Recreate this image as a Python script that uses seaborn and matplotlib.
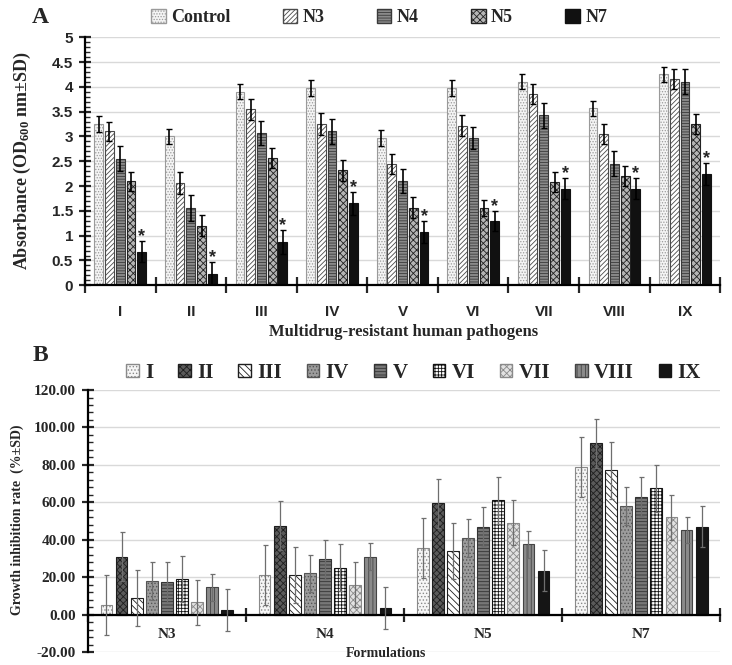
import matplotlib
matplotlib.use('Agg')
import matplotlib.pyplot as plt
import matplotlib.patches as mpatches
from matplotlib.ticker import MultipleLocator
import seaborn as sns
import numpy as np
import pandas as pd

# ---- data ----
pathogens = ['I', 'II', 'III', 'IV', 'V', 'VI', 'VII', 'VIII', 'IX']
treatments = ['Control', 'N3', 'N4', 'N5', 'N7']
formulations = ['N3', 'N4', 'N5', 'N7']

# panel A: absorbance (OD600)
od_control = [3.25, 3.00, 3.90, 3.97, 2.97, 3.97, 4.10, 3.57, 4.25]
od_n3 = [3.10, 2.07, 3.55, 3.25, 2.45, 3.22, 3.85, 3.05, 4.15]
od_n4 = [2.55, 1.55, 3.07, 3.10, 2.10, 2.97, 3.43, 2.45, 4.10]
od_n5 = [2.10, 1.20, 2.56, 2.32, 1.56, 1.55, 2.08, 2.20, 3.25]
od_n7 = [0.68, 0.23, 0.88, 1.65, 1.08, 1.30, 1.95, 1.95, 2.25]
sd_control = [0.17, 0.16, 0.15, 0.16, 0.16, 0.16, 0.15, 0.15, 0.15]
sd_n3 = [0.20, 0.22, 0.21, 0.22, 0.20, 0.21, 0.20, 0.20, 0.20]
sd_n4 = [0.25, 0.26, 0.25, 0.25, 0.24, 0.22, 0.25, 0.25, 0.25]
sd_n5 = [0.19, 0.21, 0.20, 0.21, 0.21, 0.16, 0.20, 0.20, 0.20]
sd_n7 = [0.22, 0.23, 0.24, 0.23, 0.22, 0.20, 0.22, 0.22, 0.22]
significant = [True] * 9  # asterisk over N7
yticksA = ['0', '0.5', '1', '1.5', '2', '2.5', '3', '3.5', '4', '4.5', '5']

# panel B: growth inhibition rate (%)
gi_n3 = [5.0, 31.0, 9.0, 18.0, 17.5, 19.0, 6.5, 14.5, 2.5]
gi_n4 = [21.0, 47.5, 21.0, 22.0, 29.5, 25.0, 16.0, 31.0, 3.5]
gi_n5 = [35.5, 59.5, 34.0, 41.0, 47.0, 61.0, 49.0, 37.5, 23.5]
gi_n7 = [79.0, 91.5, 77.0, 58.0, 63.0, 67.5, 52.0, 45.0, 47.0]
gi_sd = [16.0, 13.0, 15.0, 10.0, 10.5, 12.5, 12.0, 7.0, 11.0]
yticksB = ['-20.00', '0.00', '20.00', '40.00', '60.00', '80.00', '100.00', '120.00']

# ---- styles ----
serif = 'Liberation Serif'
sans = 'Liberation Sans'

styleA = {
    'Control': dict(fc='#f4f4f4', ec='#9a9a9a', hatch='......'),
    'N3': dict(fc='white', ec='#4a4a4a', hatch='///////'),
    'N4': dict(fc='#8a8a8a', ec='#3a3a3a', hatch='------'),
    'N5': dict(fc='#b5b5b5', ec='#222222', hatch='xxxxx'),
    'N7': dict(fc='#111111', ec='#111111', hatch=None),
}
styleB = {
    'I': dict(fc='#f6f6f6', ec='#8a8a8a', hatch='.....'),
    'II': dict(fc='#5a5a5a', ec='#1e1e1e', hatch='xxxxx'),
    'III': dict(fc='white', ec='#1e1e1e', hatch='\\\\\\\\\\'),
    'IV': dict(fc='#9c9c9c', ec='#555555', hatch='.....'),
    'V': dict(fc='#777777', ec='#333333', hatch='-----'),
    'VI': dict(fc='white', ec='#111111', hatch='+++++'),
    'VII': dict(fc='#e2e2e2', ec='#8a8a8a', hatch='xxxxx'),
    'VIII': dict(fc='#8a8a8a', ec='#444444', hatch='||||'),
    'IX': dict(fc='#151515', ec='#151515', hatch=None),
}

sns.set_style('white')
plt.rcParams['font.family'] = [serif, 'DejaVu Serif']
plt.rcParams['font.weight'] = 'bold'
plt.rcParams['mathtext.fontset'] = 'custom'
plt.rcParams['mathtext.rm'] = 'Liberation Serif:bold'
plt.rcParams['mathtext.default'] = 'rm'
plt.rcParams['hatch.linewidth'] = 0.6

dfA = pd.DataFrame({
    'pathogen': pathogens * 5,
    'treatment': np.repeat(treatments, 9),
    'od': od_control + od_n3 + od_n4 + od_n5 + od_n7,
})
sdA = [sd_control, sd_n3, sd_n4, sd_n5, sd_n7]

dfB = pd.DataFrame({
    'formulation': np.repeat(formulations, 9),
    'pathogen': pathogens * 4,
    'gi': gi_n3 + gi_n4 + gi_n5 + gi_n7,
})

fig = plt.figure(figsize=(7.32, 6.65), dpi=100)
axA = fig.add_axes([0.116, 0.571, 0.868, 0.373])
axB = fig.add_axes([0.120, 0.0195, 0.864, 0.394])


def style_bars(conts, order, styles):
    for name, cont in zip(order, conts):
        st = styles[name]
        for p in cont:
            p.set_facecolor(st['fc'])
            p.set_edgecolor(st['ec'])
            p.set_linewidth(0.8)
            if st['hatch']:
                p.set_hatch(st['hatch'])


def axis_frame(ax, family):
    ax.grid(axis='y', color='#d9d9d9', linewidth=1.0)
    ax.set_axisbelow(True)
    for s in ['top', 'right']:
        ax.spines[s].set_visible(False)
    for s in ['left', 'bottom']:
        ax.spines[s].set_linewidth(1.6)
        ax.spines[s].set_color('black')
    ax.tick_params(bottom=True, left=True, which='both', labelfontfamily=family,
                   labelsize=11)
    ax.tick_params(axis='x', which='major', direction='inout', length=12, width=1.6)
    ax.tick_params(axis='y', which='major', direction='inout', length=9, width=1.6, pad=4)
    ax.tick_params(axis='y', which='minor', direction='in', length=3.5, width=1.0)
    ax.set_xlabel('')
    ax.set_ylabel('')


# ---- panel A ----
sns.barplot(data=dfA, x='pathogen', y='od', hue='treatment', order=pathogens,
            hue_order=treatments, errorbar=None, width=0.76, gap=0.18,
            legend=False, ax=axA)
barsA = list(axA.containers)
style_bars(barsA, treatments, styleA)
for k, cont in enumerate(barsA):
    xs = [p.get_x() + p.get_width() / 2 for p in cont]
    hs = [p.get_height() for p in cont]
    axA.errorbar(xs, hs, yerr=sdA[k], fmt='none', ecolor='black',
                 elinewidth=1.2, capsize=2, capthick=1.0, zorder=5)
    if treatments[k] == 'N7':
        for x, h, e, s in zip(xs, hs, sdA[k], significant):
            if s:
                axA.text(x, h + e - 0.08, '*', ha='center', va='bottom',
                         fontsize=13, fontweight='bold', family=sans)

axA.set_xlim(-0.5, 8.5)
axA.set_ylim(0, 5)
axA.set_yticks(np.arange(0, 5.01, 0.5), labels=yticksA)
axA.yaxis.set_minor_locator(MultipleLocator(0.1))
axA.set_xticks(np.arange(-0.5, 9, 1), labels=[''] * 10)
axA.set_xticks(np.arange(9), labels=pathogens, minor=True)
axis_frame(axA, sans)
axA.tick_params(axis='x', which='minor', direction='in', length=3, width=1.0, pad=14)

handlesA = [mpatches.Patch(facecolor=styleA[t]['fc'], edgecolor=styleA[t]['ec'],
                           hatch=styleA[t]['hatch'], label=t) for t in treatments]
fig.legend(handles=handlesA, loc='center', bbox_to_anchor=(0.518, 0.974), ncol=5,
           frameon=False, columnspacing=2.9, handlelength=0.8, handleheight=0.8,
           handletextpad=0.3, prop=dict(family=serif, weight='bold', size=13))

fig.text(0.055, 0.974, 'A', fontsize=17, fontweight='bold', family=serif,
         ha='center', va='center')
fig.text(0.03, 0.758, 'Absorbance (OD$_{600}$ nm±SD)', rotation=90, ha='center',
         va='center', fontsize=13, fontweight='bold', family=serif)
fig.text(0.551, 0.500, 'Multidrug-resistant human pathogens', ha='center',
         va='center', fontsize=12, fontweight='bold', family=serif)

# ---- panel B ----
sns.barplot(data=dfB, x='formulation', y='gi', hue='pathogen', order=formulations,
            hue_order=pathogens, errorbar=None, width=0.86, gap=0.22,
            legend=False, ax=axB)
barsB = list(axB.containers)
style_bars(barsB, pathogens, styleB)
for k, cont in enumerate(barsB):
    xs = [p.get_x() + p.get_width() / 2 for p in cont]
    hs = [p.get_height() for p in cont]
    axB.errorbar(xs, hs, yerr=gi_sd[k], fmt='none', ecolor='#6e6e6e',
                 elinewidth=0.9, capsize=1.8, capthick=0.9, zorder=5)

axB.set_xlim(-0.5, 3.5)
axB.set_ylim(-20, 120)
axB.set_yticks(np.arange(-20, 121, 20), labels=yticksB)
axB.yaxis.set_minor_locator(MultipleLocator(4))
axB.set_xticks(np.arange(-0.5, 4, 1), labels=[''] * 5)
axB.set_xticks(np.arange(4), labels=formulations, minor=True)
axis_frame(axB, serif)
axB.tick_params(axis='x', which='major', length=10)
axB.tick_params(axis='x', which='minor', direction='in', length=3, width=1.0, pad=10)
axB.spines['bottom'].set_position(('data', 0))

handlesB = [mpatches.Patch(facecolor=styleB[p]['fc'], edgecolor=styleB[p]['ec'],
                           hatch=styleB[p]['hatch'], label=p) for p in pathogens]
fig.legend(handles=handlesB, loc='center', bbox_to_anchor=(0.565, 0.439), ncol=9,
           frameon=False, columnspacing=1.2, handlelength=0.6, handleheight=0.6,
           handletextpad=0.3, prop=dict(family=serif, weight='bold', size=15))

fig.text(0.055, 0.466, 'B', fontsize=17, fontweight='bold', family=serif,
         ha='center', va='center')
fig.text(0.024, 0.218, 'Growth inhibition rate  (%±SD)', rotation=90, ha='center',
         va='center', fontsize=10, fontweight='bold', family=serif)
fig.text(0.527, 0.018, 'Formulations', ha='center', va='center', fontsize=10,
         fontweight='bold', family=serif)

fig.savefig('out.png', dpi=100)
